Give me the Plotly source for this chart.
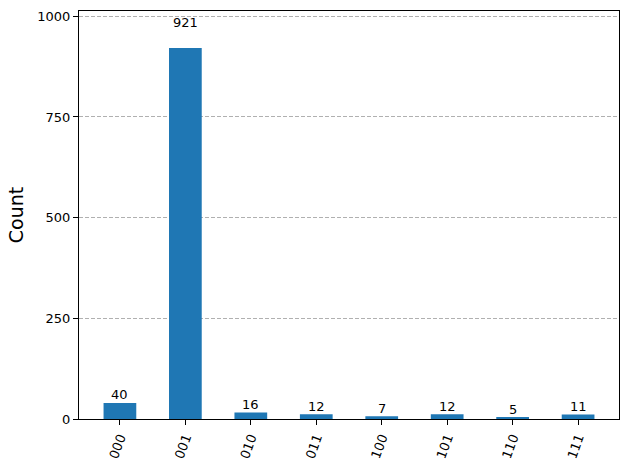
import plotly.graph_objects as go

states = ["000", "001", "010", "011", "100", "101", "110", "111"]
counts = [40, 921, 16, 12, 7, 12, 5, 11]
y_ticks = [0, 250, 500, 750, 1000]

xpos = list(range(len(states)))
fig = go.Figure()
fig.add_trace(go.Bar(x=xpos, y=counts, width=0.5, marker=dict(color="#1f77b4", line=dict(width=0)),
                     hoverinfo="skip"))
for x, v in zip(xpos, counts):
    fig.add_annotation(x=x, y=1.05 * v, text=str(v), showarrow=False, yanchor="bottom",
                       xanchor="center", font=dict(size=13, color="black"), yshift=-2)

font = "DejaVu Sans"
fig.update_layout(
    width=630, height=469,
    margin=dict(l=79, r=11, t=11, b=50),
    paper_bgcolor="white", plot_bgcolor="white",
    font=dict(family=font, size=13, color="black"),
    showlegend=False,
    xaxis=dict(range=[-0.625, 7.625], tickmode="array", tickvals=xpos, ticktext=states,
               tickangle=-70, ticks="outside", ticklen=5, tickcolor="black",
               showline=True, linecolor="black", linewidth=1, mirror=True,
               showgrid=False, zeroline=False, tickfont=dict(size=13), automargin=False),
    yaxis=dict(range=[0, 1013.1], tickmode="array", tickvals=y_ticks,
               ticks="outside", ticklen=5, tickcolor="black",
               showline=True, linecolor="black", linewidth=1, mirror=True,
               showgrid=True, gridcolor="#b0b0b0", griddash="4px,2px", gridwidth=1,
               zeroline=False, tickfont=dict(size=13), automargin=False,
               title=dict(text="Count", font=dict(size=19), standoff=8)),
)
fig.write_html("out.html", config={"displayModeBar": False},
               post_script="document.body.style.margin='0';")
